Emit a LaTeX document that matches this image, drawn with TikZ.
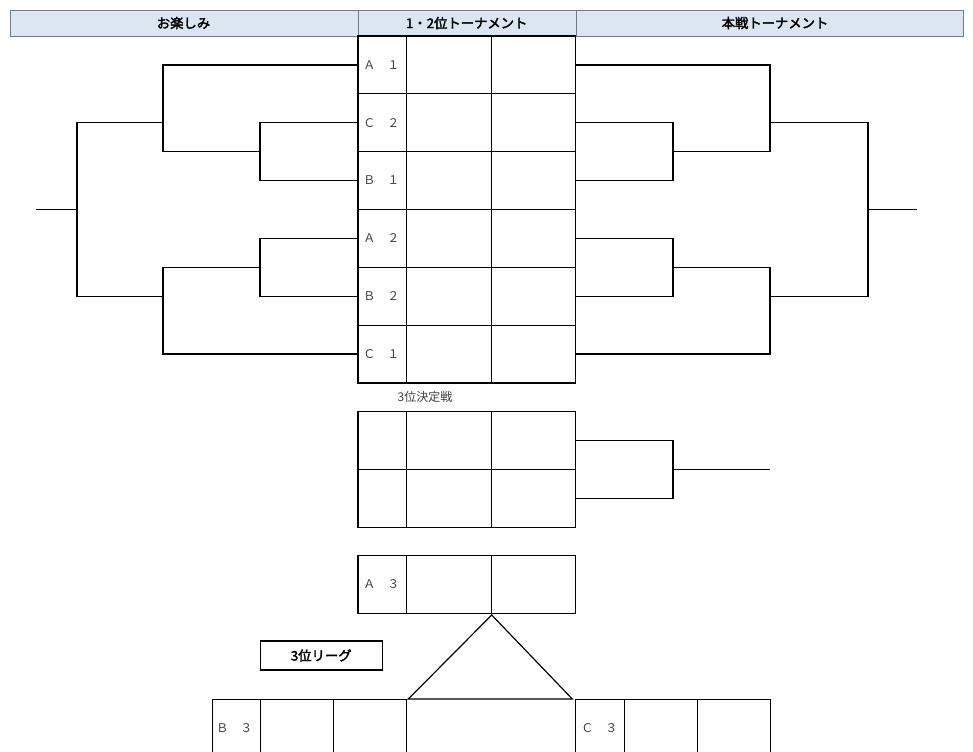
\documentclass[tikz,border=0pt]{standalone}
\usepackage{fontspec}
\newfontfamily\jp{Noto Sans CJK JP}
\newfontfamily\jpb{Noto Sans CJK JP}[FakeBold=2.5]
\definecolor{hdr}{HTML}{DCE6F1}
\definecolor{lbl}{HTML}{404040}
\definecolor{hline}{HTML}{6F7C89}
\begin{document}
\begin{tikzpicture}[x=0.75pt,y=-0.75pt,
  ln/.style={line width=0.95pt, black},
  hd/.style={font=\jpb\fontsize{10}{12}\selectfont, inner sep=0pt},
  lab/.style={font=\jp\fontsize{9}{10}\selectfont, text=lbl, inner sep=0pt, anchor=west},
  captxt/.style={font=\jp\fontsize{9}{10}\selectfont, text=lbl, inner sep=0pt},
  boxlab/.style={draw, line width=0.8pt, minimum width=91.5pt, minimum height=21.75pt, font=\jpb\fontsize{10}{12}\selectfont, inner sep=0pt}]
\useasboundingbox (0,0) rectangle (973,751);
\clip (0,0) rectangle (973,751);
% header
\path[fill=hdr, draw=hline, line width=0.6pt] (10,10) rectangle (963,36);
\draw[hline, line width=0.6pt] (358,10) -- (358,36) (576,10) -- (576,36);
\node[hd] (h1) at (183.5,23) {お楽しみ};
\node[hd] (h2) at (466.7,23) {1・2位トーナメント};
\node[hd] (h3) at (775,23) {本戦トーナメント};
% main table
\draw[ln] (358,36) rectangle (575.7,383);
\draw[ln] (406.7,36) -- (406.7,383) (491.7,36) -- (491.7,383);
\foreach \k in {1,...,5} { \draw[ln] (358,{36+57.83*\k}) -- (575.7,{36+57.83*\k}); }
\foreach \i/\t in {1/Ａ　１,2/Ｃ　２,3/Ｂ　１,4/Ａ　２,5/Ｂ　２,6/Ｃ　１} {
  \coordinate (L\i) at (358,{36+57.83*(\i-0.5)});
  \coordinate (R\i) at (575.7,{36+57.83*(\i-0.5)});
  \node[lab] (t\i) at (363,{36+57.83*(\i-0.5)}) {\t};
}
% left bracket
\coordinate (la1) at (260,151.65);
\coordinate (lc1) at (163,151.65);
\coordinate (lj1) at (163,122.7);
\coordinate (la2) at (260,267.3);
\coordinate (lc2) at (163,267.3);
\coordinate (lj2) at (163,296.2);
\coordinate (lt1) at (77,122.7);
\coordinate (lt2) at (77,296.2);
\coordinate (lm) at (77,209.5);
\coordinate (lend) at (36,209.5);
\draw[ln] (L2) -| (la1) |- (L3);
\draw[ln] (L1) -| (lc1) -- (la1);
\draw[ln] (L4) -| (la2) |- (L5);
\draw[ln] (L6) -| (lc2) -- (la2);
\draw[ln] (lj1) -- (lt1) -- (lt2) -- (lj2);
\draw[ln] (lm) -- (lend);
% right bracket
\coordinate (ra1) at (673,151.65);
\coordinate (rc1) at (770,151.65);
\coordinate (rj1) at (770,122.7);
\coordinate (ra2) at (673,267.3);
\coordinate (rc2) at (770,267.3);
\coordinate (rj2) at (770,296.2);
\coordinate (rt1) at (868,122.7);
\coordinate (rt2) at (868,296.2);
\coordinate (rm) at (868,209.5);
\coordinate (rend) at (917,209.5);
\draw[ln] (R2) -| (ra1) |- (R3);
\draw[ln] (R1) -| (rc1) -- (ra1);
\draw[ln] (R4) -| (ra2) |- (R5);
\draw[ln] (R6) -| (rc2) -- (ra2);
\draw[ln] (rj1) -- (rt1) -- (rt2) -- (rj2);
\draw[ln] (rm) -- (rend);
% third place
\node[captxt] (c3) at (425,397) {3位決定戦};
\draw[ln] (358,411.7) rectangle (575.7,527.3);
\draw[ln] (358,469.5) -- (575.7,469.5);
\draw[ln] (406.7,411.7) -- (406.7,527.3) (491.7,411.7) -- (491.7,527.3);
\coordinate (T1) at (575.7,440.6);
\coordinate (T2) at (575.7,498.4);
\coordinate (tj) at (673,469.5);
\coordinate (tend) at (770,469.5);
\draw[ln] (T1) -| (tj) |- (T2);
\draw[ln] (tj) -- (tend);
% A3 table
\draw[ln] (358,555.3) rectangle (575.7,613.3);
\draw[ln] (406.7,555.3) -- (406.7,613.3) (491.7,555.3) -- (491.7,613.3);
\node[lab] (ta3) at (363,584.3) {Ａ　３};
% triangle
\coordinate (apex) at (491.7,615);
\coordinate (bl) at (408.3,699);
\coordinate (br) at (572.3,699);
\draw[line width=0.9pt] (apex) -- (bl) -- (br) -- cycle;
% league label
\node[boxlab] (lg) at (321.2,655.5) {3位リーグ};
% B3 table
\draw[ln] (212.3,760) -- (212.3,699.3) -- (406.7,699.3) -- (406.7,760);
\draw[ln] (260.7,699.3) -- (260.7,760) (333.3,699.3) -- (333.3,760);
\node[lab] (tb3) at (216,728) {Ｂ　３};
% C3 table
\draw[ln] (575.7,760) -- (575.7,699.3) -- (770.7,699.3) -- (770.7,760);
\draw[ln] (624.3,699.3) -- (624.3,760) (697.7,699.3) -- (697.7,760);
\node[lab] (tc3) at (581,728) {Ｃ　３};
\end{tikzpicture}
\end{document}
